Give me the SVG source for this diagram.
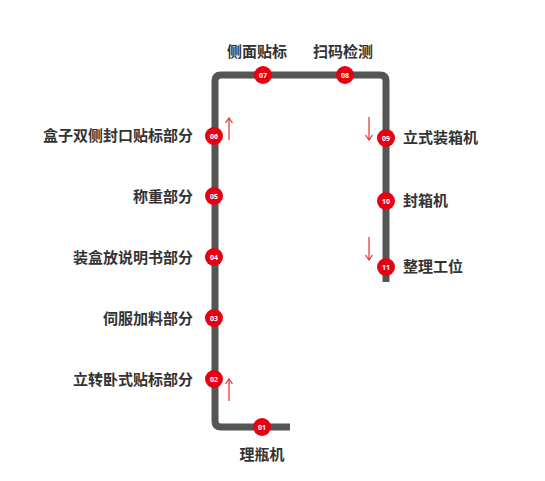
<svg xmlns="http://www.w3.org/2000/svg" width="545" height="481" viewBox="0 0 545 481">
<defs>
<style>
.lbl{font-family:"Noto Sans CJK SC","Noto Sans",sans-serif;font-size:15px;font-weight:bold;fill:#333;}
.num{font-family:"Noto Sans","Liberation Sans",sans-serif;font-size:7px;font-weight:bold;fill:#fff;text-anchor:middle;}
.dot{fill:#e60012;}
.track{fill:none;stroke:#555;stroke-width:7;stroke-linejoin:round;}
.arr{stroke:#e03030;stroke-width:1.2;fill:none;}
</style>
<marker id="ah" viewBox="0 0 8 8" refX="7" refY="4" markerWidth="8" markerHeight="8" orient="auto" markerUnits="userSpaceOnUse">
<path d="M2,0.5 L7,4 L2,7.5" fill="none" stroke="#e03030" stroke-width="1.2"/>
</marker>
</defs>
<rect width="545" height="481" fill="#fff"/>
<g id="connectors">
<path class="track" d="M290,427 H221 Q215,427 215,421 V81 Q215,75 221,75 H380 Q386,75 386,81 V282"/>
<line class="arr" x1="229" y1="140" x2="229" y2="118" marker-end="url(#ah)"/>
<line class="arr" x1="229" y1="401" x2="229" y2="379" marker-end="url(#ah)"/>
<line class="arr" x1="369" y1="117" x2="369" y2="140" marker-end="url(#ah)"/>
<line class="arr" x1="369" y1="237" x2="369" y2="260" marker-end="url(#ah)"/>
</g>
<g id="n01"><circle class="dot" cx="262" cy="427" r="9"/><text class="num" x="262" y="429.5">01</text><text class="lbl" x="262" y="460" text-anchor="middle">理瓶机</text></g>
<g id="n02"><circle class="dot" cx="214" cy="379" r="9"/><text class="num" x="214" y="381.5">02</text><text class="lbl" x="193" y="385" text-anchor="end">立转卧式贴标部分</text></g>
<g id="n03"><circle class="dot" cx="214" cy="318" r="9"/><text class="num" x="214" y="320.5">03</text><text class="lbl" x="193" y="324" text-anchor="end">伺服加料部分</text></g>
<g id="n04"><circle class="dot" cx="214" cy="257" r="9"/><text class="num" x="214" y="259.5">04</text><text class="lbl" x="193" y="263" text-anchor="end">装盒放说明书部分</text></g>
<g id="n05"><circle class="dot" cx="214" cy="196" r="9"/><text class="num" x="214" y="198.5">05</text><text class="lbl" x="193" y="202" text-anchor="end">称重部分</text></g>
<g id="n06"><circle class="dot" cx="214" cy="136" r="9"/><text class="num" x="214" y="138.5">06</text><text class="lbl" x="193" y="141" text-anchor="end">盒子双侧封口贴标部分</text></g>
<g id="n07"><circle class="dot" cx="263" cy="75" r="9"/><text class="num" x="263" y="77.5">07</text><text class="lbl" x="257" y="57" text-anchor="middle">侧面贴标</text></g>
<g id="n08"><circle class="dot" cx="345" cy="75" r="9"/><text class="num" x="345" y="77.5">08</text><text class="lbl" x="343" y="57" text-anchor="middle">扫码检测</text></g>
<g id="n09"><circle class="dot" cx="386" cy="138" r="9"/><text class="num" x="386" y="140.5">09</text><text class="lbl" x="403" y="143">立式装箱机</text></g>
<g id="n10"><circle class="dot" cx="386" cy="201" r="9"/><text class="num" x="386" y="203.5">10</text><text class="lbl" x="403" y="206">封箱机</text></g>
<g id="n11"><circle class="dot" cx="386" cy="267" r="9"/><text class="num" x="386" y="269.5">11</text><text class="lbl" x="403" y="272">整理工位</text></g>
</svg>
